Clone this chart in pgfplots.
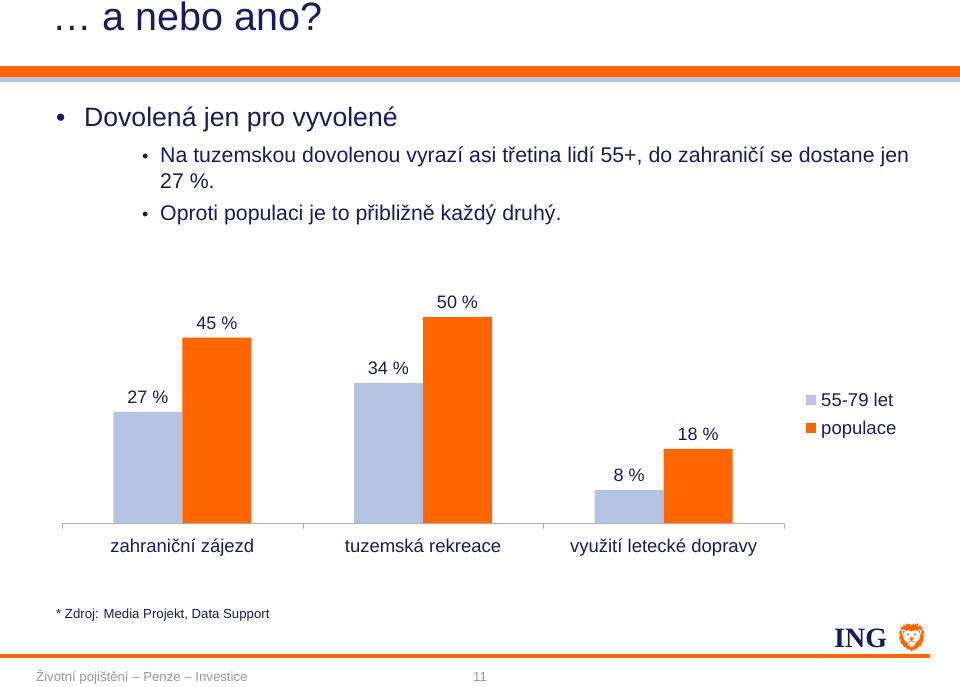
\documentclass[border=0pt]{standalone}
\usepackage{pgfplots}
\pgfplotsset{compat=1.18}
\usepackage{fontspec}
\setmainfont{Liberation Sans}
\newfontfamily\ingfont{Liberation Serif}
\newfontfamily\emojifont{Noto Emoji}
\definecolor{ingorange}{HTML}{FF6600}
\definecolor{barblue}{HTML}{B4C4E2}
\definecolor{navy}{RGB}{26,26,94}
\definecolor{footgray}{RGB}{150,150,175}
\newcommand{\fs}[1]{\fontsize{#1pt}{#1pt}\selectfont}
\begin{document}
\begin{tikzpicture}
\begin{scope}[x=1pt,y=-1pt]
\path[use as bounding box] (0,0) rectangle (960,687);
% header stripes
\fill[ingorange] (0,66) rectangle (960,77);
\fill[barblue] (0,77) rectangle (960,82);
% title
\node[anchor=base west, text=navy, inner sep=0pt, font=\fs{39.5}] at (52,31) {… a nebo ano?};
% bullets
\node[anchor=base west, text=navy, inner sep=0pt, font=\fs{26.6}] at (56,127) {•};
\node[anchor=base west, text=navy, inner sep=0pt, font=\fs{26.6}] at (84,127) {Dovolená jen pro vyvolené};
\node[anchor=base west, text=navy, inner sep=0pt, font=\fs{18}] at (142,163) {•};
\node[anchor=base west, text=navy, inner sep=0pt, font=\fs{21.3}] at (160,163) {Na tuzemskou dovolenou vyrazí asi třetina lidí 55+, do zahraničí se dostane jen};
\node[anchor=base west, text=navy, inner sep=0pt, font=\fs{21.3}] at (160,188) {27 \%.};
\node[anchor=base west, text=navy, inner sep=0pt, font=\fs{18}] at (142,220) {•};
\node[anchor=base west, text=navy, inner sep=0pt, font=\fs{21.3}] at (160,220) {Oproti populaci je to přibližně každý druhý.};
% footnote
\node[anchor=base west, text=navy, inner sep=0pt, font=\fs{13.2}] at (56,618) {* Zdroj: Media Projekt, Data Support};
% logo
\node[anchor=base west, text=navy, inner sep=0pt, font=\ingfont\bfseries\fs{28}] at (834,647) {ING};
\node[anchor=base west, text=ingorange, inner sep=0pt, font=\emojifont\fs{28}] at (894,647) {🦁};
% bottom line
\fill[ingorange] (0,654) rectangle (930,658);
% footer
\node[anchor=base west, text=footgray, inner sep=0pt, font=\fs{13.2}] at (36,681) {Životní pojištění – Penze – Investice};
\node[anchor=base west, text=footgray, inner sep=0pt, font=\fs{13.2}] at (473,681) {11};
\end{scope}
\begin{axis}[
  at={(62pt,-523pt)}, anchor=south west,
  scale only axis, width=722pt, height=206pt,
  xmin=-0.5, xmax=2.5, ymin=0, ymax=50,
  ybar=0pt, bar width=69pt,
  axis x line*=bottom, axis y line=none,
  x axis line style={draw=gray!60},
  xtick={0,1,2},
  xticklabels={zahraniční zájezd, tuzemská rekreace, využití letecké dopravy},
  major tick length=0pt,
  minor xtick={-0.5,0.5,1.5,2.5},
  minor tick length=6pt, tick align=outside,
  every minor tick/.style={draw=gray!60},
  tick label style={font=\fs{18.5}, text=navy},
  xticklabel style={anchor=base, yshift=-29pt},
  /pgf/number format/assume math mode=true,
  nodes near coords={\pgfmathprintnumber{\pgfplotspointmeta} \%},
  every node near coord/.append style={font=\fs{18}, text=navy, anchor=base, yshift=8.5pt},
  clip=false,
  legend image code/.code={\fill[#1,draw=none] (0pt,-5pt) rectangle (10pt,5pt); \path (0pt,0pt) -- (13pt,0pt);},
  legend style={at={(1.0305,0.527)}, anchor=west, draw=none, fill=none,
    font=\fs{18.5}, text=navy, inner sep=0pt, row sep=9pt,
    cells={anchor=west}},
]
\addplot[fill=barblue, draw=none] coordinates {(0,27) (1,34) (2,8)};
\addplot[fill=ingorange, draw=none] coordinates {(0,45) (1,50) (2,18)};
\legend{55-79 let, populace}
\end{axis}
\end{tikzpicture}
\end{document}
